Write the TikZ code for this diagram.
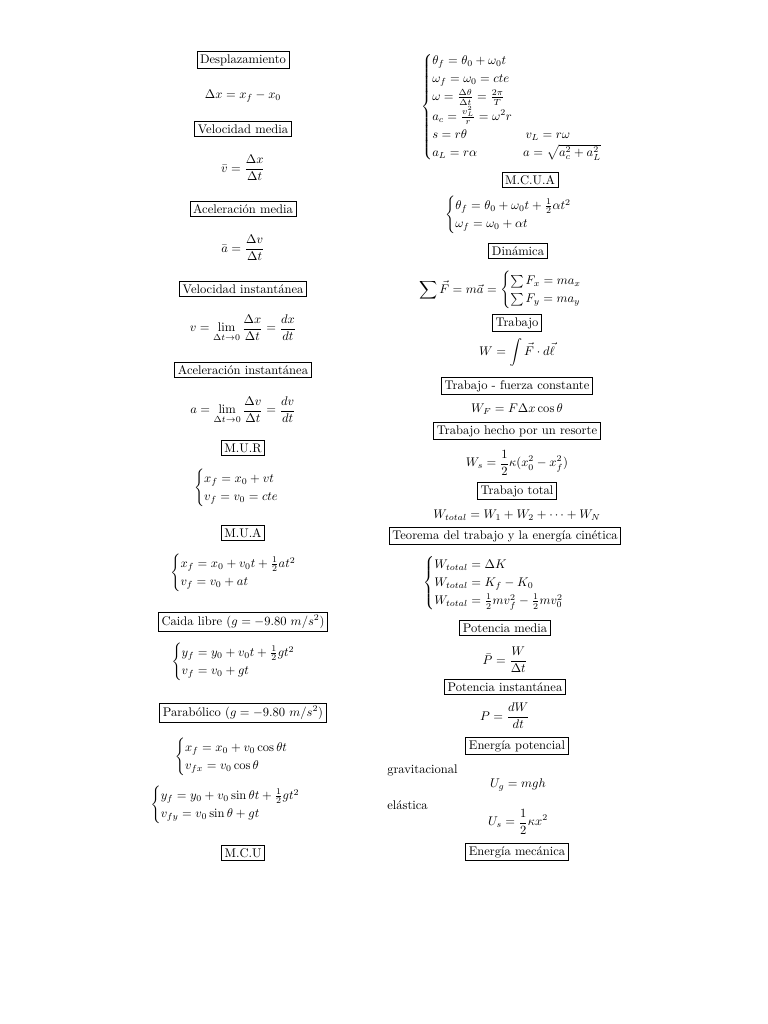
\documentclass[tikz,border=0pt]{standalone}
\usepackage{amsmath}
\tikzset{bx/.style={draw,line width=0.6pt,inner sep=2.5pt},eq/.style={inner sep=0pt}}
\begin{document}
\begin{tikzpicture}[x=0.797pt,y=-0.797pt]
\useasboundingbox (0,0) rectangle (768,1024);
% left column
\node[bx] (d1) at (243,60) {Desplazamiento};
\node[eq] (e1) at (243,96) {$\Delta x = x_f - x_0$};
\node[bx] (d2) at (243,129) {Velocidad media};
\node[eq] (e2) at (243,168) {$\displaystyle \bar v = \frac{\Delta x}{\Delta t}$};
\node[bx] (d3) at (243,209) {Aceleración media};
\node[eq] (e3) at (243,248) {$\displaystyle \bar a = \frac{\Delta v}{\Delta t}$};
\node[bx] (d4) at (243,289) {Velocidad instantánea};
\node[eq] (e4) at (243,328) {$\displaystyle v = \lim_{\Delta t\to 0}\frac{\Delta x}{\Delta t} = \frac{dx}{dt}$};
\node[bx] (d5) at (243,370) {Aceleración instantánea};
\node[eq] (e5) at (243,410) {$\displaystyle a = \lim_{\Delta t\to 0}\frac{\Delta v}{\Delta t} = \frac{dv}{dt}$};
\node[bx] (d6) at (243,448) {M.U.R};
\node[eq] (e6) at (243,488) {$\begin{cases} x_f = x_0 + vt\\ v_f = v_0 = cte\end{cases}$};
\node[bx] (d7) at (243,533) {M.U.A};
\node[eq] (e7) at (240,573) {$\begin{cases} x_f = x_0 + v_0t + \frac12 at^2\\ v_f = v_0 + at\end{cases}$};
\node[bx] (d8) at (243,622) {Caida libre ($g=-9.80\ m/s^2$)};
\node[eq] (e8) at (240,662) {$\begin{cases} y_f = y_0 + v_0t + \frac12 gt^2\\ v_f = v_0 + gt\end{cases}$};
\node[bx] (d9) at (243,713) {Parabólico ($g=-9.80\ m/s^2$)};
\node[eq] (e9) at (238,757) {$\begin{cases} x_f = x_0 + v_0\cos\theta t\\ v_{fx} = v_0\cos\theta\end{cases}$};
\node[eq] (e10) at (232,805) {$\begin{cases} y_f = y_0 + v_0\sin\theta t + \frac12 gt^2\\ v_{fy} = v_0\sin\theta + gt\end{cases}$};
\node[bx] (d10) at (243,853) {M.C.U};
% right column
\node[eq] (r1) at (518,107) {$\begin{cases} \theta_f = \theta_0 + \omega_0 t\\ \omega_f = \omega_0 = cte\\ \omega = \frac{\Delta\theta}{\Delta t} = \frac{2\pi}{T}\\ a_c = \frac{v_L^2}{r} = \omega^2 r\\ s = r\theta \qquad\qquad\ \ v_L = r\omega\\ a_L = r\alpha \qquad\quad\ \ a = \sqrt{a_c^2 + a_L^2}\end{cases}$};
\node[bx] (b1) at (530,180) {M.C.U.A};
\node[eq] (r2) at (515,215) {$\begin{cases} \theta_f = \theta_0 + \omega_0 t + \frac12\alpha t^2\\ \omega_f = \omega_0 + \alpha t\end{cases}$};
\node[bx] (b2) at (518,251) {Dinámica};
\node[eq] (r3) at (507,290) {$\displaystyle \sum \vec F = m\vec a = \begin{cases}\sum F_x = ma_x\\ \sum F_y = ma_y\end{cases}$};
\node[bx] (b3) at (517,323) {Trabajo};
\node[eq] (r4) at (517,352) {$\displaystyle W = \int \vec F\cdot d\vec\ell$};
\node[bx] (b4) at (517,386) {Trabajo - fuerza constante};
\node[eq] (r5) at (517,409) {$W_F = F\Delta x\cos\theta$};
\node[bx] (b5) at (517,431) {Trabajo hecho por un resorte};
\node[eq] (r6) at (517,463) {$\displaystyle W_s = \frac12\kappa(x_0^2 - x_f^2)$};
\node[bx] (b6) at (517,491) {Trabajo total};
\node[eq] (r7) at (517,515) {$W_{total} = W_1 + W_2 + \cdots + W_N$};
\node[bx] (b7) at (505,536) {Teorema del trabajo y la energía cinética};
\node[eq] (r8) at (500,583) {$\begin{cases} W_{total} = \Delta K\\ W_{total} = K_f - K_0\\ W_{total} = \frac12 mv_f^2 - \frac12 mv_0^2\end{cases}$};
\node[bx] (b8) at (505,628) {Potencia media};
\node[eq] (r9) at (505,660) {$\displaystyle \bar P = \frac{W}{\Delta t}$};
\node[bx] (b9) at (505,687) {Potencia instantánea};
\node[eq] (r10) at (505,716) {$\displaystyle P = \frac{dW}{dt}$};
\node[bx] (b10) at (517,746) {Energía potencial};
\node[eq,anchor=west] (t1) at (387,770) {gravitacional};
\node[eq] (r11) at (518,785) {$U_g = mgh$};
\node[eq,anchor=west] (t2) at (387,805) {elástica};
\node[eq] (r12) at (518,822) {$\displaystyle U_s = \frac12\kappa x^2$};
\node[bx] (b11) at (517,852) {Energía mecánica};
\end{tikzpicture}
\end{document}
